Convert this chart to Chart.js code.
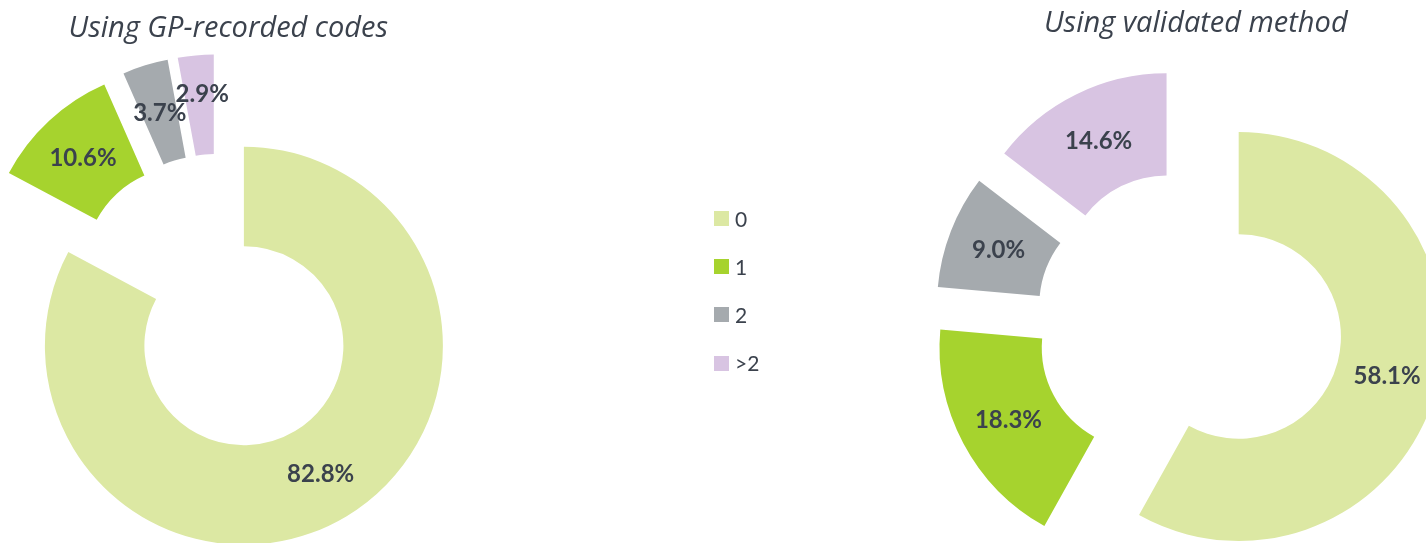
<!DOCTYPE html>
<html><head><meta charset="utf-8">
<script src="https://cdn.jsdelivr.net/npm/chart.js@4.4.1/dist/chart.umd.min.js"></script>
<style>
html,body{margin:0;padding:0;background:#fff;width:1426px;height:543px;overflow:hidden;position:relative;font-family:Lato,sans-serif;}
canvas{position:absolute;left:0;top:0;}
.title{position:absolute;font-family:"Open Sans",Lato,sans-serif;font-style:italic;font-size:29px;line-height:30px;color:#3b424d;white-space:nowrap;transform:translateX(-50%);}
.sw{position:absolute;width:15px;height:15px;}
.lt{position:absolute;font-size:21px;line-height:24px;color:#3b424d;white-space:nowrap;}
</style></head><body>
<canvas id="c1" width="1426" height="543"></canvas>
<canvas id="c2" width="1426" height="543"></canvas>
<div id="overlay"></div>
<script>
const categories = ['0', '1', '2', '>2'];
const gpRecorded = [82.8, 10.6, 3.7, 2.9];
const validated = [58.1, 18.3, 9.0, 14.6];
const chartTitles = ['Using GP-recorded codes', 'Using validated method'];
const colors = ['#DCE8A3', '#A6D32E', '#A5AAAE', '#D8C4E2'];

const explodePlugin = {
  id: 'explode',
  beforeDatasetDraw(chart, args, opts) {
    const ctx = chart.ctx;
    const f = opts.fraction || 0;
    args.meta.data.forEach(arc => {
      const mid = (arc.startAngle + arc.endAngle) / 2;
      const e = arc.outerRadius * f;
      ctx.save();
      ctx.translate(Math.cos(mid) * e, Math.sin(mid) * e);
      arc.draw(ctx, chart.chartArea);
      ctx.restore();
    });
    return false;
  },
  afterDatasetsDraw(chart, args, opts) {
    const ctx = chart.ctx;
    const f = opts.fraction || 0;
    const nudge = opts.nudge || {};
    const meta = chart.getDatasetMeta(0);
    const vals = chart.data.datasets[0].data;
    ctx.save();
    ctx.font = 'bold 24px Lato';
    ctx.fillStyle = '#3B424D';
    ctx.textAlign = 'center';
    ctx.textBaseline = 'alphabetic';
    meta.data.forEach((arc, i) => {
      const mid = (arc.startAngle + arc.endAngle) / 2;
      const d = arc.outerRadius * f + (arc.innerRadius + arc.outerRadius) / 2;
      const n = nudge[i] || [0, 0];
      const x = arc.x + Math.cos(mid) * d + n[0];
      const y = arc.y + Math.sin(mid) * d + n[1];
      ctx.fillText(vals[i].toFixed(1) + '%', x, y + 8.6);
    });
    ctx.restore();
  }
};

function makeChart(id, values, padding, radius, nudge) {
  return new Chart(document.getElementById(id), {
    type: 'doughnut',
    data: { labels: categories, datasets: [{ data: values, backgroundColor: colors, borderWidth: 0, hoverOffset: 0, offset: 0 }] },
    options: {
      responsive: false, animation: false, events: [],
      radius: radius, cutout: '50%',
      layout: { padding: padding },
      plugins: { legend: { display: false }, tooltip: { enabled: false }, explode: { fraction: 0.25, nudge: nudge } }
    },
    plugins: [explodePlugin]
  });
}

makeChart('c1', gpRecorded, { left: 0, right: 989.4, top: 63.2, bottom: 0 }, 199, { 3: [2, -11.6] });
makeChart('c2', validated, { left: 952.4, right: 0, top: 104.2, bottom: 0 }, 204.5, {});

const ov = document.getElementById('overlay');
const titlePos = [[228.3, 37.3], [1195.8, 32.3]];
chartTitles.forEach((t, i) => {
  const d = document.createElement('div');
  d.className = 'title';
  d.textContent = t;
  d.style.left = titlePos[i][0] + 'px';
  d.style.top = (titlePos[i][1] - 26.3) + 'px';
  ov.appendChild(d);
});
categories.forEach((c, i) => {
  const s = document.createElement('div');
  s.className = 'sw';
  s.style.left = '714px';
  s.style.top = (211 + i * 48.2) + 'px';
  s.style.background = colors[i];
  ov.appendChild(s);
  const l = document.createElement('div');
  l.className = 'lt';
  l.textContent = c;
  l.style.left = '735px';
  l.style.top = (206.5 + i * 48.2) + 'px';
  ov.appendChild(l);
});
</script>
</body></html>
